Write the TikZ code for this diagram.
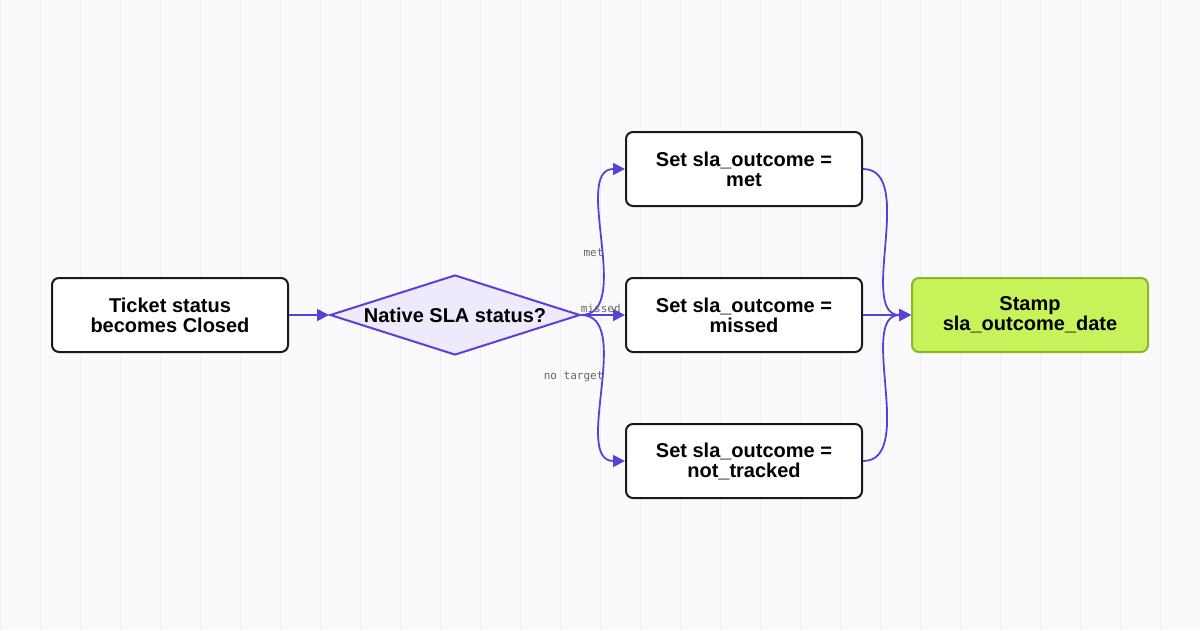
\documentclass[tikz,border=0pt]{standalone}
\usepackage{fontspec}
\setmainfont{Liberation Sans}
\newfontfamily\labelfont{DejaVu Sans Mono}
\usetikzlibrary{shapes.geometric,arrows.meta}
\definecolor{flowline}{HTML}{5B3FD9}
\definecolor{gridline}{HTML}{EEEEF8}
\definecolor{bgpaper}{HTML}{FAFAFD}
\definecolor{diafill}{HTML}{EEEAFB}
\definecolor{stampfill}{HTML}{C8F25A}
\definecolor{stampdraw}{HTML}{8DB52A}

\begin{document}
\begin{tikzpicture}
		[x=1pt,y=-1pt,
		action/.style={rectangle,rounded corners=7pt,draw=black!90,fill=white,line width=2pt,minimum width=236pt,minimum height=74pt,align=center,font=\fontsize{20}{20}\selectfont\bfseries},
		stamp/.style={action,draw=stampdraw,fill=stampfill},
		decision/.style={diamond,aspect=3.1,draw=flowline,fill=diafill,line width=2pt,inner sep=0pt,minimum width=250pt,minimum height=80pt,font=\fontsize{20}{20}\selectfont\bfseries},
		flow/.style={draw=flowline,line width=1.8pt,-{Triangle[length=12pt,width=12pt]}},
		branch/.style={font=\labelfont\fontsize{11}{11}\selectfont,text=black!60}]
		\useasboundingbox (0,0) rectangle (1200,630);
		\fill[bgpaper] (0,0) rectangle (1200,630);
		\draw[gridline,line width=1pt] (0,0) grid[step=40] (1200,630);

		\node [action] (ticket) at (170,315) {Ticket status\\becomes Closed};
		\node [decision] (native) at (455,315) {Native SLA status?};
		\node [action] (met) at (744,169) {Set sla\_outcome =\\met};
		\node [action] (missed) at (744,315) {Set sla\_outcome =\\missed};
		\node [action] (nottracked) at (744,461) {Set sla\_outcome =\\not\_tracked};
		\node [stamp] (stampdate) at (1030,315) {Stamp\\sla\_outcome\_date};

		\draw [flow] (ticket) -- (native);
		\draw [flow] (native.east) to[out=0,in=180,looseness=0.9] node [branch,pos=0.45,left,xshift=4pt] {met} (met);
		\draw [flow] (native.east) -- node [branch,pos=0.45,above=-2pt] {missed} (missed);
		\draw [flow] (native.east) to[out=0,in=180,looseness=0.9] node [branch,pos=0.45,left,xshift=4pt] {no target} (nottracked);
		\draw [flow] (met) to[out=0,in=180,looseness=0.9] (stampdate);
		\draw [flow] (missed) -- (stampdate);
		\draw [flow] (nottracked) to[out=0,in=180,looseness=0.9] (stampdate);
	\end{tikzpicture}
\end{document}
